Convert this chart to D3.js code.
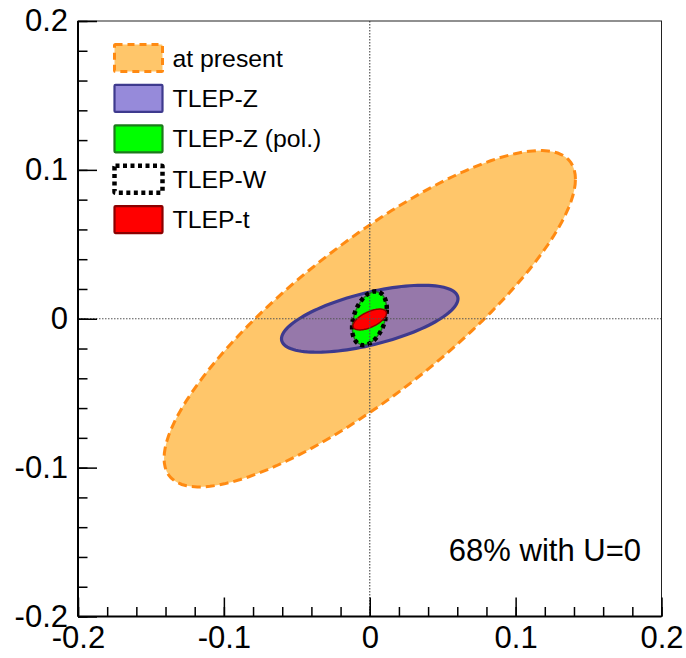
<!DOCTYPE html>
<html>
<head>
<meta charset="utf-8">
<script src="https://cdn.jsdelivr.net/npm/d3@7"></script>
<style>
  body { margin: 0; background: #fff; }
  svg text { font-family: "Liberation Sans", Arial, Helvetica, sans-serif; fill: #000; }
</style>
</head>
<body>
<div id="chart"></div>
<script>
// contour names, in legend order
var names = ["at present", "TLEP-Z", "TLEP-Z (pol.)", "TLEP-W", "TLEP-t"];
// 68% ellipses: centre, half widths and correlation
var centerX = [0.0, 0.0, -0.0002, -0.0002, 0.0];
var centerY = [0.0, 0.0, 0.0003, 0.0003, -0.0005];
var sigmaX = [0.141, 0.0605, 0.0117, 0.0119, 0.0115];
var sigmaY = [0.113, 0.0225, 0.0178, 0.0181, 0.0070];
var rho = [0.83, 0.60, 0.35, 0.35, 0.60];
var xTicks = [-0.2, -0.1, 0, 0.1, 0.2];
var yTicks = [-0.2, -0.1, 0, 0.1, 0.2];
var note = "68% with U=0";

var W = 686, H = 658;
var margin = { top: 21, right: 24.5, bottom: 41.5, left: 78 };
var w = W - margin.left - margin.right,
    h = H - margin.top - margin.bottom;

var styles = [
  { fill: "#ffc66a", stroke: "#ff8a12", width: 3, dash: "9,5" },
  { fill: "rgba(100,82,200,0.68)", stroke: "#3e3a8e", width: 3.2, dash: null },
  { fill: "#00ff00", stroke: "#1c7a1c", width: 1.5, dash: null },
  { fill: "none", stroke: "#000", width: 4.5, dash: "4,3.5" },
  { fill: "#ff0000", stroke: "#8b0000", width: 1.5, dash: null }
];

var svg = d3.select("#chart").append("svg")
    .attr("width", W).attr("height", H);
var g = svg.append("g")
    .attr("transform", "translate(" + margin.left + "," + margin.top + ")");

var x = d3.scaleLinear().domain([-0.2, 0.2]).range([0, w]);
var y = d3.scaleLinear().domain([-0.2, 0.2]).range([h, 0]);

// ellipse outline from centre / widths / correlation
function ellipse(i) {
  var pts = d3.range(0, 361, 3).map(function(a) {
    var t = a * Math.PI / 180;
    var px = centerX[i] + sigmaX[i] * Math.cos(t);
    var py = centerY[i] + sigmaY[i] * (rho[i] * Math.cos(t) + Math.sqrt(1 - rho[i] * rho[i]) * Math.sin(t));
    return [x(px), y(py)];
  });
  return d3.line().curve(d3.curveLinearClosed)(pts.slice(0, -1));
}

// draw contours: orange, purple, green, W, red
[0, 1, 2, 3, 4].forEach(function(i) {
  var s = styles[i];
  g.append("path")
    .attr("d", ellipse(i))
    .attr("fill", s.fill)
    .attr("stroke", s.stroke)
    .attr("stroke-width", s.width)
    .attr("stroke-dasharray", s.dash);
});

// dotted zero lines
g.append("line")
  .attr("x1", x(0)).attr("x2", x(0)).attr("y1", 0).attr("y2", h)
  .attr("stroke", "#555").attr("stroke-width", 1.2).attr("stroke-dasharray", "1.5,1.5");
g.append("line")
  .attr("x1", 0).attr("x2", w).attr("y1", y(0)).attr("y2", y(0))
  .attr("stroke", "#555").attr("stroke-width", 1.2).attr("stroke-dasharray", "1.5,1.5");

// frame
g.append("rect").attr("width", w).attr("height", h)
  .attr("fill", "none").attr("stroke", "#222").attr("stroke-width", 1);

var minorX = d3.range(-0.2, 0.2001, 0.02).map(function(v) { return +v.toFixed(2); });
var minorY = minorX.slice();
var plain = function(d) { return String(d); }; // hyphen minus, like the original

function styleAxis(sel) {
  sel.selectAll("line").attr("stroke", "#000").attr("stroke-width", 1.5);
  sel.select(".domain").remove();
}

// left axis: ticks point inwards, labels outside
g.append("g").call(d3.axisRight(y).tickValues(minorY).tickSize(9.5).tickFormat("")).call(styleAxis);
g.append("g").call(d3.axisRight(y).tickValues(yTicks).tickSize(19).tickFormat("")).call(styleAxis);
var yLab = g.append("g").call(d3.axisLeft(y).tickValues(yTicks).tickSize(0).tickPadding(10).tickFormat(plain));
yLab.select(".domain").remove();
yLab.selectAll("text").style("font-size", "31px").attr("fill", "#000");

// bottom axis
var bx = g.append("g").attr("transform", "translate(0," + h + ")");
bx.append("g").call(d3.axisTop(x).tickValues(minorX).tickSize(9.5).tickFormat("")).call(styleAxis);
bx.append("g").call(d3.axisTop(x).tickValues(xTicks).tickSize(19).tickFormat("")).call(styleAxis);
var xLab = bx.append("g").call(d3.axisBottom(x).tickValues(xTicks).tickSize(0).tickPadding(9).tickFormat(plain));
xLab.select(".domain").remove();
xLab.selectAll("text").style("font-size", "31px").attr("fill", "#000");

// thick axis lines
g.append("line").attr("x1", 0).attr("x2", 0).attr("y1", 0).attr("y2", h)
  .attr("stroke", "#000").attr("stroke-width", 2);
g.append("line").attr("x1", 0).attr("x2", w).attr("y1", h).attr("y2", h)
  .attr("stroke", "#000").attr("stroke-width", 2);

// legend
var legend = svg.append("g").attr("transform", "translate(113,43)");
names.forEach(function(n, i) {
  var s = styles[i];
  var row = legend.append("g").attr("transform", "translate(0," + (i * 40.4) + ")");
  row.append("rect")
    .attr("x", 1.5).attr("y", 1.5).attr("width", 48).attr("height", 27).attr("rx", 1)
    .attr("fill", s.fill)
    .attr("stroke", s.stroke)
    .attr("stroke-width", i === 3 ? 4.5 : (i === 0 ? 3 : 2.2))
    .attr("stroke-dasharray", i === 0 ? "7,5" : (i === 3 ? "4,3.5" : null));
  row.append("text")
    .attr("x", 59.5).attr("y", 15)
    .attr("dy", "0.35em")
    .style("font-size", "24.8px")
    .text(n);
});

// annotation
svg.append("text")
  .attr("x", 641).attr("y", 561)
  .attr("text-anchor", "end")
  .style("font-size", "31px")
  .text(note);
</script>
</body>
</html>
